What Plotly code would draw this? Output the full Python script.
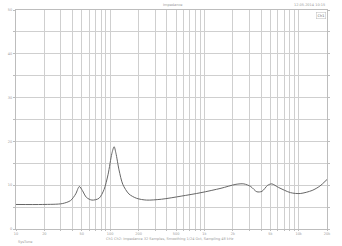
import plotly.graph_objects as go

freq_hz = [10, 19.2, 31, 38, 43, 47, 50.6, 56, 64, 76, 86, 95, 104, 110, 115, 124, 136, 158, 191, 243,
           350, 566, 920, 1500, 2160, 2620, 3100, 3600, 4080, 4700, 5200, 6100, 8200, 10400, 13900, 16800, 20000]
impedance_ohm = [5.6, 5.6, 5.8, 6.5, 8.0, 9.7, 8.8, 7.2, 6.6, 7.0, 9.0, 12.5, 17.2, 18.8, 17.3, 13.5, 10.2, 8.0, 7.0, 6.6,
                 6.8, 7.5, 8.3, 9.3, 10.2, 10.3, 9.7, 8.5, 8.6, 10.0, 10.3, 9.5, 8.3, 8.1, 8.8, 9.8, 11.3]

x_labels = {10: "10", 20: "20", 50: "50", 100: "100", 200: "200", 500: "500",
            1000: "1k", 2000: "2k", 5000: "5k", 10000: "10k", 20000: "20k"}
y_ticks = [0, 5, 10, 15, 20, 25, 30, 35, 40, 45, 50]
y_labels = ["0", "", "10", "", "20", "", "30", "", "40", "", "50"]

x_grid = []
for dec in [10, 100, 1000, 10000]:
    for m in range(1, 10):
        v = dec * m
        if v <= 20000:
            x_grid.append(v)
x_grid.append(20000)
x_text = [x_labels.get(v, "") for v in x_grid]

grey = "#9a9a9a"
fig = go.Figure()
fig.add_trace(go.Scatter(x=freq_hz, y=impedance_ohm, mode="lines", line=dict(color="#666666", width=1, shape="spline", smoothing=0.8),
                         name="Impedance", showlegend=False))

fig.update_layout(
    width=342, height=246,
    margin=dict(l=13, r=15, t=8, b=17),
    paper_bgcolor="white", plot_bgcolor="white",
    font=dict(family="DejaVu Sans", size=4, color=grey),
    xaxis=dict(type="log", range=[1, 4.30103], tickvals=x_grid, ticktext=x_text,
               showgrid=True, gridcolor="#cfcfcf", gridwidth=0.6, zeroline=False,
               showline=True, linecolor="#bdbdbd", linewidth=1, mirror=True,
               ticks="outside", ticklen=1, tickcolor="#bdbdbd", tickfont=dict(size=3.5, color=grey)),
    yaxis=dict(range=[0, 50], tickvals=y_ticks, ticktext=y_labels,
               showgrid=True, gridcolor="#cfcfcf", gridwidth=0.6, zeroline=False,
               showline=True, linecolor="#bdbdbd", linewidth=1, mirror="ticks",
               ticks="outside", ticklen=2, tickcolor="#bdbdbd", tickfont=dict(size=3.5, color=grey)),
)

fig.add_annotation(text="Impedance", x=0.503, y=1, xref="paper", yref="paper", yanchor="bottom", yshift=1,
                   showarrow=False, font=dict(size=3.5, color=grey))
fig.add_annotation(text="12.05.2014 10:15", x=1.0, y=1, xref="paper", yref="paper", yanchor="bottom", xanchor="right",
                   yshift=1, showarrow=False, font=dict(size=3.5, color=grey))
fig.add_annotation(text="Ch1", x=1.0, y=0.99, xref="paper", yref="paper", yanchor="top", xanchor="right", xshift=-1,
                   showarrow=False, font=dict(size=3.5, color="#666666"), bordercolor="#bbbbbb", borderwidth=0.5,
                   bgcolor="white", borderpad=1)
fig.add_annotation(text="Ch1 Ch2: Impedance 32 Samples, Smoothing 1/24 Oct, Sampling 48 kHz",
                   x=0.494, y=0, xref="paper", yref="paper", yanchor="top", yshift=-6,
                   showarrow=False, font=dict(size=3.5, color=grey))
fig.add_annotation(text="SysTune", x=0.0, y=0, xref="paper", yref="paper", yanchor="top", xanchor="left",
                   yshift=-9, showarrow=False, font=dict(size=3.5, color=grey))

fig.write_html("out.html")
